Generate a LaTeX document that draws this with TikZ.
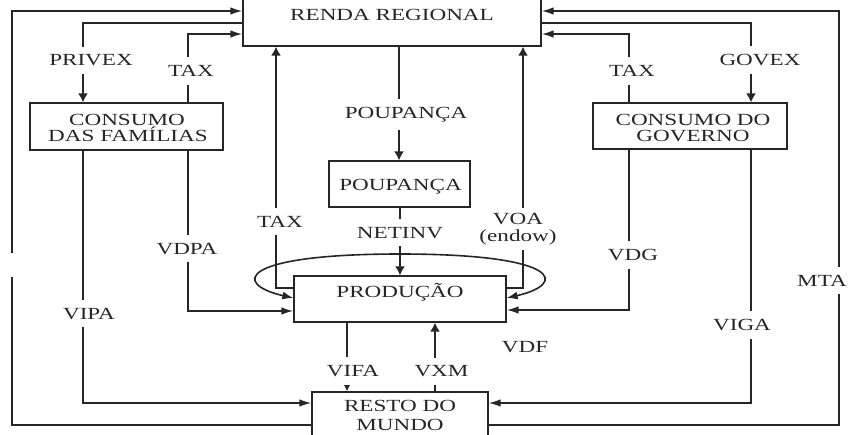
\documentclass[tikz,border=0pt]{standalone}
\usepackage{fontspec}
\setmainfont{Liberation Serif}[FakeStretch=1.36]
\usetikzlibrary{arrows.meta}
\definecolor{ink}{HTML}{262626}
\begin{document}
\begin{tikzpicture}[x=1pt,y=-1pt,
  font=\fontsize{17}{17}\selectfont, text=ink,
  box/.style={draw=ink, line width=1.3pt, inner sep=0pt},
  txt/.style={inner sep=0pt, anchor=base},
  lab/.style={fill=white, inner xsep=2pt, inner ysep=8pt, anchor=base},
  con/.style={draw=ink, line width=1.6pt},
  av/.style={-{Latex[length=9pt,width=10pt]}},
  ah/.style={-{Latex[length=12pt,width=7.5pt]}},
  lp/.style={{Latex[length=11pt,width=8pt]}-{Latex[length=11pt,width=8pt]}}
]
\clip (0,0) rectangle (849,434);
\fill[white] (0,0) rectangle (849,434);

% boxes
\node[box, minimum width=298pt, minimum height=56pt] (renda) at (392,18) {};
\node[box, minimum width=193pt, minimum height=47pt] (cf) at (126.5,126.5) {};
\node[box, minimum width=194pt, minimum height=46pt] (cg) at (690,126) {};
\node[box, minimum width=141pt, minimum height=46pt] (poup) at (399.5,184) {};
\node[box, minimum width=212pt, minimum height=46pt] (prod) at (400,299) {};
\node[box, minimum width=176pt, minimum height=56pt] (resto) at (400,420) {};

% box texts
\node[txt] (rendat) at (392,20.7) {RENDA REGIONAL};
\node[txt] (cft1) at (127,125) {CONSUMO};
\node[txt] (cft2) at (128,141.7) {DAS FAMÍLIAS};
\node[txt] (cgt1) at (693,125) {CONSUMO DO};
\node[txt] (cgt2) at (693,141.7) {GOVERNO};
\node[txt] (poupt) at (400.5,190) {POUPANÇA};
\node[txt] (prodt) at (400,297.3) {PRODUÇÃO};
\node[txt] (restot1) at (400,411) {RESTO DO};
\node[txt] (restot2) at (400,430) {MUNDO};

% connectors
\draw[con, ah] (resto.west |- 0,425) -- (12,425) -- (12,277) (12,253) -- (12,11) -- (renda.west |- 0,11);
\draw[con, av] (renda.west |- 0,23) -- (83,23) -- (cf.north -| 83,0);
\draw[con, ah] (cf.north -| 188,0) -- (188,34) -- (renda.west |- 0,34);
\draw[con, ah] (cf.south -| 83,0) -- (83,403) -- (resto.west |- 0,403);
\draw[con, ah] (cf.south -| 188,0) -- (188,311) -- (prod.west |- 0,311);
\draw[con, av] (prod.west |- 0,288) -- (276,288) -- (renda.south -| 276,0);
\draw[con, av] (prod.east |- 0,288) -- (523,288) -- (renda.south -| 523,0);
\draw[con, av] (renda.south -| 399,0) -- (poup.north -| 399,0);
\draw[con, av] (poup.south -| 400,0) -- (prod.north -| 400,0);
\draw[con, lp] (prod.west |- 0,298) .. controls (232,284) and (238,254) .. (400,254)
  .. controls (562,254) and (568,284) .. (prod.east |- 0,298);
\draw[con, av] (prod.south -| 347,0) -- (resto.north -| 347,0);
\draw[con, av] (resto.north -| 435,0) -- (prod.south -| 435,0);
\draw[con, av] (renda.east |- 0,23) -- (751,23) -- (cg.north -| 751,0);
\draw[con, ah] (cg.north -| 629,0) -- (629,34) -- (renda.east |- 0,34);
\draw[con, ah] (cg.south -| 629,0) -- (629,310) -- (prod.east |- 0,310);
\draw[con, ah] (cg.south -| 751,0) -- (751,403) -- (resto.east |- 0,403);
\draw[con, ah] (resto.east |- 0,425) -- (839,425) -- (839,11) -- (renda.east |- 0,11);

% labels
\node[lab] (lprivex) at (91,65.7) {PRIVEX};
\node[lab] (ltaxl) at (191,76.7) {TAX};
\node[lab] (lgovex) at (760,65.7) {GOVEX};
\node[lab] (ltaxr) at (632,76.7) {TAX};
\node[lab] (lpoup) at (406,118.3) {POUPANÇA};
\node[lab] (ltaxc) at (280,227) {TAX};
\node[lab] (lnetinv) at (400,238) {NETINV};
\node[lab, anchor=center, align=center, inner ysep=5pt] (lvoa) at (518,229) {VOA\\(endow)};
\node[lab] (lvdpa) at (187,254) {VDPA};
\node[lab] (lvipa) at (89,319) {VIPA};
\node[lab] (lvdg) at (633,260.7) {VDG};
\node[lab] (lviga) at (742,330.7) {VIGA};
\node[lab] (lmta) at (822,286) {MTA};
\node[lab] (lvdf) at (525,352.7) {VDF};
\node[lab] (lvifa) at (353,376.7) {VIFA};
\node[lab] (lvxm) at (441.5,376.7) {VXM};
\end{tikzpicture}
\end{document}
